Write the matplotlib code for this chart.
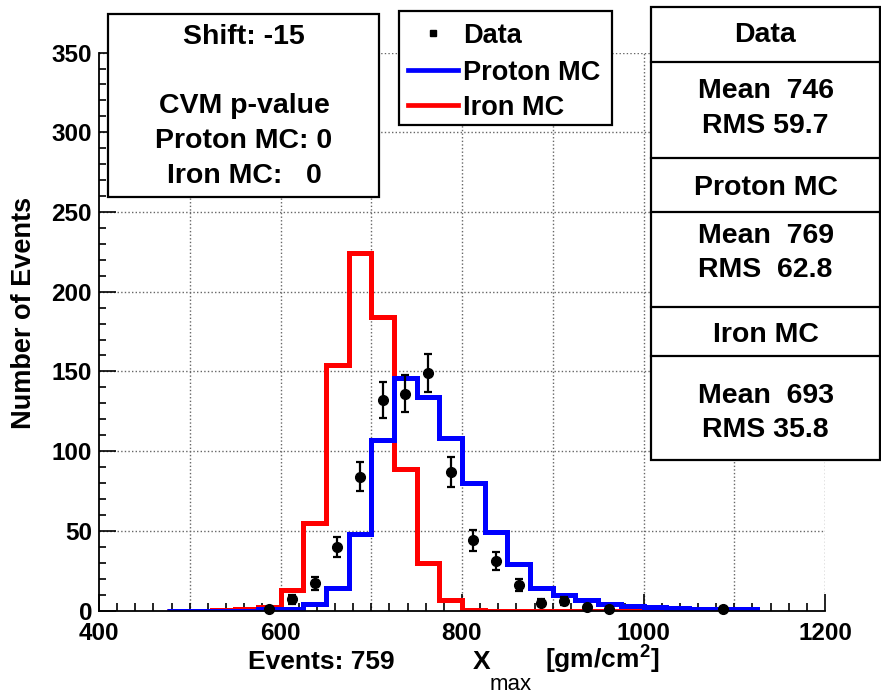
import matplotlib
matplotlib.use("Agg")
import matplotlib.pyplot as plt
from matplotlib.patches import Rectangle
from matplotlib.lines import Line2D
from matplotlib.ticker import MultipleLocator, FixedLocator
import numpy as np

plt.rcParams['font.family'] = ['Liberation Sans', 'DejaVu Sans']
plt.rcParams['font.weight'] = 'bold'
plt.rcParams['mathtext.fontset'] = 'custom'
plt.rcParams['mathtext.rm'] = 'Liberation Sans:bold'
plt.rcParams['mathtext.bf'] = 'Liberation Sans:bold'
plt.rcParams['mathtext.it'] = 'Liberation Sans:bold'

# Xmax binning (25 gm/cm^2 bins)
bin_edges = np.arange(475, 1125 + 1, 25)

# Simulated distributions, one value per bin
proton_mc = [0, 0, 0, 0, 0.7, 1, 4, 14, 48, 107, 146, 134, 108,
             80, 49, 29, 14, 10, 6.5, 4, 3, 2, 1.5, 1.2, 1, 1]
iron_mc = [0, 0, 0.5, 1, 2.5, 13, 55, 154, 224, 184, 89, 30, 6.5,
           0.5, 0, 0, 0, 0, 0, 0, 0, 0, 0, 0, 0, 0]

# Observed events per bin (empty bins are not drawn)
data_counts = [0, 0, 0, 0, 1, 7, 17, 40, 84, 132, 136, 149, 87,
               44, 31, 16, 5, 6, 2, 1, 0, 0, 0, 0, 1, 0]

x_ticks = [400, 600, 800, 1000, 1200]
y_ticks = [0, 50, 100, 150, 200, 250, 300, 350]

stats_rows = [("Data", None), ("Mean  746", "RMS 59.7"),
              ("Proton MC", None), ("Mean  769", "RMS  62.8"),
              ("Iron MC", None), ("Mean  693", "RMS 35.8")]
info_lines = ["Shift: -15", "CVM p-value", "Proton MC: 0", "Iron MC:   0"]
legend_labels = ["Data", "Proton MC", "Iron MC"]

W, H = 881, 696
fig = plt.figure(figsize=(W / 100, H / 100), dpi=100)


def fx(px):
    return px / W


def fy(py):
    return 1 - py / H


ax = fig.add_axes([fx(99), fy(610.5), fx(825) - fx(99), fy(52.6) - fy(610.5)])
ax.set_xlim(400, 1200)
ax.set_ylim(0, 350)

# dotted grid every 100 in x and every 50 in y
grid_kw = dict(color='#666666', lw=1.0, ls=(0, (1, 1.6)), zorder=0)
for gx in range(500, 1201, 100):
    ax.axvline(gx, **grid_kw)
for gy in y_ticks[1:]:
    ax.axhline(gy, **grid_kw)

ax.stairs(iron_mc, bin_edges, color='#ff0000', lw=3.6, zorder=2)
ax.stairs(proton_mc, bin_edges, color='#0000ff', lw=3.6, zorder=3)

centers = 0.5 * (bin_edges[:-1] + bin_edges[1:])
counts = np.array(data_counts, dtype=float)
keep = counts > 0
ax.errorbar(centers[keep], counts[keep], yerr=np.sqrt(counts[keep]),
            fmt='o', color='black', ms=7, elinewidth=1.6, capsize=3.2,
            capthick=1.6, zorder=5, clip_on=False)

for side in ('top', 'right'):
    ax.spines[side].set_visible(False)
for side in ('left', 'bottom'):
    ax.spines[side].set_linewidth(1.3)
    ax.spines[side].set_zorder(4)

ax.xaxis.set_major_locator(FixedLocator(x_ticks))
ax.xaxis.set_minor_locator(MultipleLocator(20))
ax.yaxis.set_major_locator(FixedLocator(y_ticks))
ax.yaxis.set_minor_locator(MultipleLocator(10))
ax.tick_params(which='both', direction='in', width=1.2, color='black')
ax.tick_params(axis='x', which='major', length=12.5, pad=8.5, labelsize=17.5)
ax.tick_params(axis='x', which='minor', length=6)
ax.tick_params(axis='y', which='major', length=12.5, pad=5, labelsize=17.5)
ax.tick_params(axis='y', which='minor', length=5)
for lab in ax.get_xticklabels() + ax.get_yticklabels():
    lab.set_fontweight('bold')

fig.text(fx(24), fy(313), "Number of Events", rotation=90, ha='center',
         va='center', fontsize=19.5, fontweight='bold')

# x axis title
fig.text(fx(248), fy(669), "Events: 759", ha='left', va='baseline',
         fontsize=19, fontweight='bold')
fig.text(fx(473), fy(669), "X", ha='left', va='baseline',
         fontsize=19, fontweight='bold')
fig.text(fx(490), fy(690), "max", ha='left', va='baseline',
         fontsize=16, fontweight='normal')
fig.text(fx(545), fy(669), r"[gm/cm$^{2}$]", ha='left', va='baseline',
         fontsize=19, fontweight='bold')


def box(x0, y0, x1, y1):
    fig.patches.append(Rectangle((fx(x0), fy(y1)), fx(x1) - fx(x0),
                                 fy(y0) - fy(y1), transform=fig.transFigure,
                                 facecolor='white', edgecolor='black',
                                 lw=1.6, zorder=10))


DY = 3  # vertical nudge so capitals sit centred on their rows

# info box
box(108, 14, 379, 197)
for txt, cy in zip(info_lines, [34, 103, 138, 173]):
    fig.text(fx(244), fy(cy + DY), txt, ha='center', va='center',
             fontsize=20.5, fontweight='bold', zorder=11)

# legend
box(399, 11, 612, 125)
rows = [33, 70, 105]
for lbl, ry in zip(legend_labels, rows):
    fig.text(fx(463), fy(ry + DY), lbl, ha='left', va='center',
             fontsize=19.5, fontweight='bold', zorder=11)
fig.lines.append(Line2D([fx(433)], [fy(rows[0])], marker='s', ms=4.5,
                        color='black', transform=fig.transFigure, zorder=11))
fig.lines.append(Line2D([fx(408), fx(458)], [fy(rows[1])] * 2, color='#0000ff',
                        lw=3.4, transform=fig.transFigure, zorder=11))
fig.lines.append(Line2D([fx(408), fx(458)], [fy(rows[2])] * 2, color='#ff0000',
                        lw=3.4, transform=fig.transFigure, zorder=11))

# statistics panel
box(651, 7, 880, 460)
dividers = [62, 158, 212, 307, 356]
for dy in dividers:
    fig.lines.append(Line2D([fx(651), fx(880)], [fy(dy)] * 2, color='black',
                            lw=1.6, transform=fig.transFigure, zorder=11))
text_y = [[32], [88, 123], [185], [233, 267], [332], [393, 427]]
for (a, b), ys in zip(stats_rows, text_y):
    for t, yy in zip([a, b], ys):
        if t is None:
            continue
        fig.text(fx(765.5), fy(yy + DY), t, ha='center', va='center',
                 fontsize=20.5, fontweight='bold', zorder=11)

fig.savefig("out.png", dpi=100)
